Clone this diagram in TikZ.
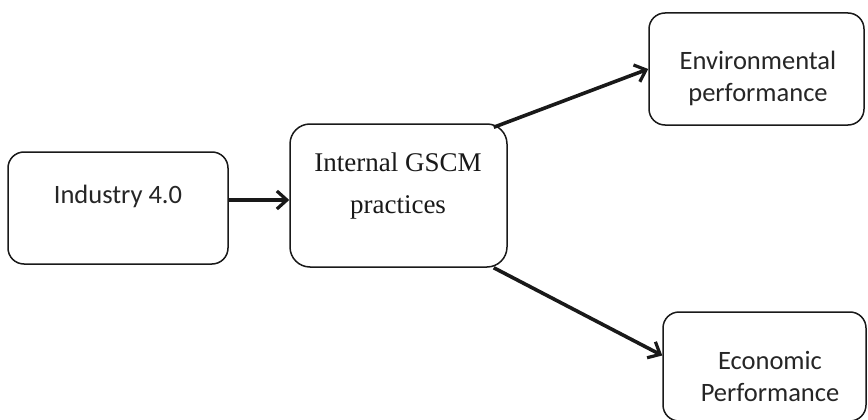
\documentclass[tikz,border=0pt]{standalone}
\usepackage{fontspec}
\setmainfont{Liberation Serif}
\newfontfamily\boxsans{Carlito}
\usetikzlibrary{arrows.meta}
\begin{document}
\begin{tikzpicture}[x=1pt,y=-1pt,
  boxnode/.style={draw=black!90, line width=1.5pt, rounded corners=16pt, inner sep=0pt},
  sanslbl/.style={font=\boxsans\fontsize{26.5}{32}\selectfont, text=black!85, align=center, inner sep=0pt},
  seriflbl/.style={font=\fontsize{27}{42}\selectfont, text=black!90, align=center, inner sep=0pt},
  conn/.style={line width=3.6pt, black!90, -{Straight Barb[length=10pt,width=18pt,line width=3.2pt]}}]
\useasboundingbox (0,0) rectangle (868,420);
\fill[white] (0,0) rectangle (868,420);
% boxes
\node[boxnode, minimum width=220pt, minimum height=112pt] (ind) at (118,208) {};
\node[boxnode, minimum width=217pt, minimum height=143pt, rounded corners=20pt] (int) at (398.5,195.5) {};
\node[boxnode, minimum width=215pt, minimum height=112pt] (env) at (756.5,69) {};
\node[boxnode, minimum width=203pt, minimum height=109pt] (eco) at (764.5,366.5) {};
% labels
\node[sanslbl] (indt) at (118,196) {Industry 4.0};
\node[seriflbl] (intt) at (398,186) {Internal GSCM\\practices};
\node[sanslbl] (envt) at (758,78) {Environmental\\performance};
\node[sanslbl] (ecot) at (770,376) {Economic\\Performance};
% connectors
\draw[conn] ([yshift=8pt]ind.east) -- ([yshift=8pt]ind.east -| int.west);
\draw[conn] ([xshift=-14pt,yshift=-4pt]int.north east) -- (env.west);
\draw[conn] ([xshift=-14pt]int.south east) -- ([yshift=11pt]eco.west);
\end{tikzpicture}
\end{document}
